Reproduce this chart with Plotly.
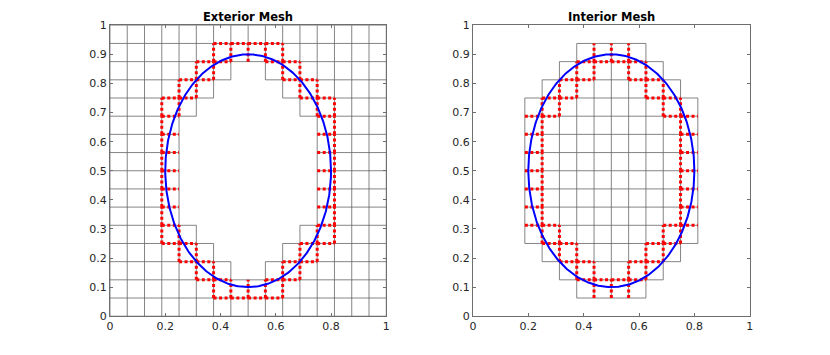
import numpy as np
import plotly.graph_objects as go

# ---- chart definition ----
GRID_N = 16                      # 16 x 16 uniform cells on the unit square
ELLIPSE_CENTER = [0.5, 0.5]      # centre of the blue ellipse
ELLIPSE_SEMI_AXES = [0.3, 0.4]   # semi-axes (x, y)
PANEL_TITLES = ["Exterior Mesh", "Interior Mesh"]
PANEL_REGION = ["outside", "inside"]
X_TICKS = [0, 0.2, 0.4, 0.6, 0.8, 1]
X_TICK_LABELS = ["0", "0.2", "0.4", "0.6", "0.8", "1"]
Y_TICKS = [0, 0.1, 0.2, 0.3, 0.4, 0.5, 0.6, 0.7, 0.8, 0.9, 1]
Y_TICK_LABELS = ["0", "0.1", "0.2", "0.3", "0.4", "0.5", "0.6", "0.7", "0.8", "0.9", "1"]

# ---- styles ----
MESH_COLOR = "rgb(80,80,80)"
CUT_COLOR = "#ff0000"
CURVE_COLOR = "#0000ff"
AXIS_COLOR = "#6e6e6e"
TEXT_COLOR = "#262626"
FONT = "DejaVu Sans"


def level(x, y):
    cx, cy = ELLIPSE_CENTER
    ax, ay = ELLIPSE_SEMI_AXES
    return ((x - cx) / ax) ** 2 + ((y - cy) / ay) ** 2 - 1.0


def in_region(vals, region):
    return (vals > 0) if region == "outside" else (vals < 0)


def build_mesh(region):
    h = 1.0 / GRID_N
    s = np.linspace(0, 1, 9)
    t = np.linspace(0, 1, 41)
    grey, red = set(), set()
    for i in range(GRID_N):
        for j in range(GRID_N):
            X, Y = np.meshgrid((i + s) * h, (j + s) * h)
            v = level(X, Y)
            has_in, has_out = (v < 0).any(), (v > 0).any()
            keep = has_out if region == "outside" else has_in
            if not keep:
                continue
            edges = [((i, j), (i + 1, j)), ((i + 1, j), (i + 1, j + 1)),
                     ((i, j + 1), (i + 1, j + 1)), ((i, j), (i, j + 1))]
            for e in edges:
                grey.add(e)
            if has_in and has_out:
                for (a, b) in edges:
                    ex = (a[0] + (b[0] - a[0]) * t) * h
                    ey = (a[1] + (b[1] - a[1]) * t) * h
                    if in_region(level(ex, ey), region).any():
                        red.add((a, b))
    return grey, red


def edges_to_xy(edges):
    h = 1.0 / GRID_N
    xs, ys = [], []
    for (a, b) in sorted(edges):
        xs += [a[0] * h, b[0] * h, None]
        ys += [a[1] * h, b[1] * h, None]
    return xs, ys


theta = np.linspace(0, 2 * np.pi, 500)
ell_x = ELLIPSE_CENTER[0] + ELLIPSE_SEMI_AXES[0] * np.cos(theta)
ell_y = ELLIPSE_CENTER[1] + ELLIPSE_SEMI_AXES[1] * np.sin(theta)

fig = go.Figure()
for k, region in enumerate(PANEL_REGION):
    xa = "x" if k == 0 else "x2"
    ya = "y" if k == 0 else "y2"
    grey, red = build_mesh(region)
    gx, gy = edges_to_xy(grey)
    rx, ry = edges_to_xy(red)
    fig.add_trace(go.Scatter(x=gx, y=gy, mode="lines", xaxis=xa, yaxis=ya,
                             line=dict(color=MESH_COLOR, width=0.7),
                             hoverinfo="skip", showlegend=False))
    fig.add_trace(go.Scatter(x=rx, y=ry, mode="lines", xaxis=xa, yaxis=ya,
                             line=dict(color=CUT_COLOR, width=3, dash="3px,2.5px"),
                             hoverinfo="skip", showlegend=False))
    fig.add_trace(go.Scatter(x=ell_x, y=ell_y, mode="lines", xaxis=xa, yaxis=ya,
                             line=dict(color=CURVE_COLOR, width=2),
                             hoverinfo="skip", showlegend=False))

W, H = 830, 355
x_domains = [[107 / W, 386 / W], [473.5 / W, 753 / W]]
y_domain = [1 - 322 / H, 1 - 20 / H]

axis_common = dict(range=[0, 1], showgrid=False, zeroline=False,
                   showline=True, linecolor=AXIS_COLOR, linewidth=1,
                   mirror="ticks", ticks="inside", ticklen=3, tickcolor=AXIS_COLOR,
                   tickfont=dict(family=FONT, size=11, color=TEXT_COLOR))

layout = dict(width=W, height=H, margin=dict(l=0, r=0, t=0, b=0),
              paper_bgcolor="white", plot_bgcolor="white", showlegend=False)
layout["xaxis"] = dict(axis_common, domain=x_domains[0], anchor="y",
                       tickvals=X_TICKS, ticktext=X_TICK_LABELS)
layout["yaxis"] = dict(axis_common, domain=y_domain, anchor="x",
                       tickvals=Y_TICKS, ticktext=Y_TICK_LABELS)
layout["xaxis2"] = dict(axis_common, domain=x_domains[1], anchor="y2",
                        tickvals=X_TICKS, ticktext=X_TICK_LABELS)
layout["yaxis2"] = dict(axis_common, domain=y_domain, anchor="x2",
                        tickvals=Y_TICKS, ticktext=Y_TICK_LABELS)

annotations = []
for k, title in enumerate(PANEL_TITLES):
    annotations.append(dict(text="<b>" + title + "</b>", xref="paper", yref="paper",
                            x=sum(x_domains[k]) / 2, y=1 - 11 / H,
                            xanchor="center", yanchor="middle", showarrow=False,
                            font=dict(family=FONT, size=11.5, color="black")))
layout["annotations"] = annotations

fig.update_layout(**layout)
fig.write_html("out.html",
               config={"displayModeBar": False},
               post_script="document.body.style.margin='0px';"
                           "document.body.style.overflow='hidden';")
